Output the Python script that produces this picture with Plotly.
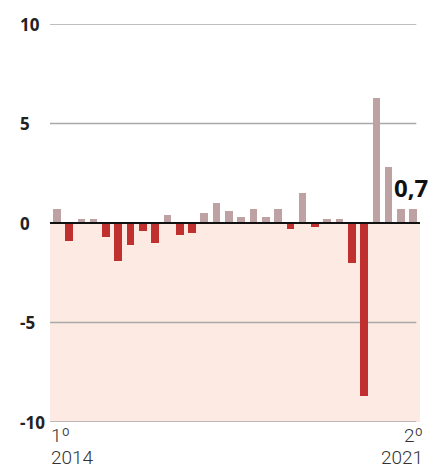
import plotly.graph_objects as go

# Quarterly variation, 1st quarter 2014 to 2nd quarter 2021
quarters = [f"{y}T{q}" for y in range(2014, 2022) for q in range(1, 5)][:30]
values = [0.7, -0.9, 0.2, 0.2, -0.7, -1.9, -1.1, -0.4, -1.0, 0.4,
          -0.6, -0.5, 0.5, 1.0, 0.6, 0.3, 0.7, 0.3, 0.7, -0.3,
          1.5, -0.2, 0.2, 0.2, -2.0, -8.7, 6.3, 2.8, 0.7, 0.7]
y_ticks = [10, 5, 0, -5, -10]
y_tick_text = ["10", "5", "0", "-5", "-10"]
start_label = ("1º", "2014")
end_label = ("2º", "2021")
last_label = "0,7"

POS = "#bda1a3"
NEG = "#bf302e"
colors = [POS if v >= 0 else NEG for v in values]
xs = list(range(len(values)))

fig = go.Figure()
fig.add_trace(go.Bar(x=xs, y=values, marker=dict(color=colors, line=dict(width=0)),
                     width=0.62, hoverinfo="skip"))

# shaded negative zone
fig.add_shape(type="rect", xref="paper", yref="y", x0=0, x1=1, y0=-10, y1=0,
              fillcolor="#fdebe3", line=dict(width=0), layer="below")
# gridlines
for t in y_ticks:
    if t == 0:
        continue
    fig.add_shape(type="line", xref="paper", yref="y", x0=0, x1=0.99, y0=t, y1=t,
                  line=dict(color="#a9a9a9", width=1.6), layer="below")
fig.add_shape(type="line", xref="paper", yref="y", x0=0, x1=1, y0=0, y1=0,
              line=dict(color="#111111", width=2), layer="above")

ann = []
for t, s in zip(y_ticks, y_tick_text):
    ann.append(dict(x=-0.087, y=t, xref="paper", yref="y", text=f"<b>{s}</b>", showarrow=False,
                    xanchor="left", yanchor="middle",
                    font=dict(family="Open Sans", size=17, color="#222222")))

tick_font = dict(family="Roboto", size=19, color="#333333", weight=300)
for xp, anchor, (ordinal, year) in [(-0.003, "left", start_label), (1.014, "right", end_label)]:
    ann.append(dict(x=xp, y=-0.034, xref="paper", yref="paper", text=ordinal, showarrow=False,
                    xanchor=anchor, yanchor="middle", font=tick_font))
    ann.append(dict(x=xp, y=-0.088, xref="paper", yref="paper", text=year, showarrow=False,
                    xanchor=anchor, yanchor="middle", font=tick_font))

ann.append(dict(x=1.026, y=0.588, xref="paper", yref="paper", text=f"<b>{last_label}</b>",
                showarrow=False, xanchor="right", yanchor="middle",
                font=dict(family="Open Sans", size=24, color="#111111")))

fig.update_layout(
    width=433, height=468,
    margin=dict(l=50, r=13, t=24, b=46),
    paper_bgcolor="white", plot_bgcolor="rgba(0,0,0,0)",
    showlegend=False, bargap=0,
    xaxis=dict(range=[-0.55, 29.55], showgrid=False, zeroline=False,
               showticklabels=False, ticks=""),
    yaxis=dict(range=[-10, 10], showgrid=False, zeroline=False,
               showticklabels=False, ticks=""),
    annotations=ann,
)

fig.write_html("out.html")
